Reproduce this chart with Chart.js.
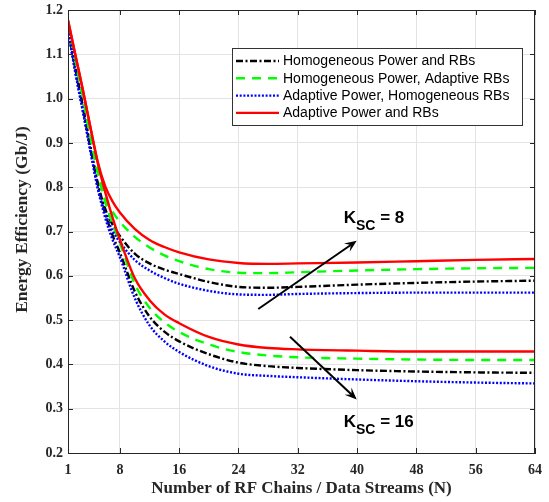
<!DOCTYPE html>
<html lang="en">
<head>
  <meta charset="UTF-8">
  <title>Energy Efficiency vs Number of RF Chains</title>
  <style>
    body { margin: 0; background: #fff; }
    #wrap { width: 549px; height: 502px; position: relative; }
  </style>
</head>
<body>

<div id="wrap"><canvas id="eeChart"></canvas></div>

<script src="https://cdn.jsdelivr.net/npm/chart.js"></script>
<script>
  // x values: number of RF chains / data streams (N)
  const nValues = [1, 2, 3, 4, 5, 6, 7, 8, 10, 12, 14, 16, 20, 24, 28, 32, 40, 48, 56, 64];
  const xTicks = [1, 8, 16, 24, 32, 40, 48, 56, 64];
  const yTicks = [0.2, 0.3, 0.4, 0.5, 0.6, 0.7, 0.8, 0.9, 1.0, 1.1, 1.2];

  const seriesNames = [
    'Homogeneous Power and RBs',
    'Homogeneous Power, Adaptive RBs',
    'Adaptive Power, Homogeneous RBs',
    'Adaptive Power and RBs'
  ];

  // K_SC = 8
  const homoBothK8  = [1.160, 1.068, 0.982, 0.893, 0.810, 0.752, 0.716, 0.690, 0.650, 0.628, 0.614, 0.604, 0.586, 0.575, 0.573, 0.575, 0.580, 0.584, 0.587, 0.589];
  const homoPowK8   = [1.165, 1.082, 1.002, 0.915, 0.835, 0.778, 0.745, 0.722, 0.688, 0.664, 0.646, 0.633, 0.615, 0.607, 0.606, 0.608, 0.612, 0.615, 0.617, 0.618];
  const adaPowK8    = [1.155, 1.058, 0.972, 0.884, 0.800, 0.742, 0.702, 0.676, 0.636, 0.612, 0.595, 0.582, 0.566, 0.558, 0.557, 0.559, 0.561, 0.562, 0.562, 0.562];
  const adaBothK8   = [1.177, 1.098, 1.020, 0.937, 0.858, 0.803, 0.768, 0.743, 0.706, 0.681, 0.665, 0.653, 0.637, 0.629, 0.627, 0.628, 0.630, 0.633, 0.636, 0.638];

  // K_SC = 16
  const homoBothK16 = [1.160, 1.068, 0.982, 0.893, 0.808, 0.742, 0.692, 0.652, 0.565, 0.508, 0.474, 0.452, 0.423, 0.404, 0.396, 0.392, 0.387, 0.384, 0.382, 0.381];
  const homoPowK16  = [1.165, 1.082, 1.002, 0.915, 0.833, 0.768, 0.717, 0.674, 0.582, 0.528, 0.495, 0.473, 0.445, 0.428, 0.420, 0.416, 0.413, 0.411, 0.410, 0.410];
  const adaPowK16   = [1.155, 1.058, 0.972, 0.884, 0.798, 0.732, 0.682, 0.642, 0.550, 0.488, 0.452, 0.428, 0.396, 0.379, 0.374, 0.371, 0.366, 0.362, 0.359, 0.357];
  const adaBothK16  = [1.177, 1.098, 1.020, 0.937, 0.856, 0.790, 0.732, 0.682, 0.595, 0.545, 0.513, 0.493, 0.462, 0.445, 0.437, 0.434, 0.431, 0.429, 0.429, 0.429];

  // line look per scheme (black dash-dot, green dashed, blue dotted, red solid)
  const styles = [
    { color: '#000000', dash: [7, 2.5, 2, 2.5], order: 4 },
    { color: '#00ff00', dash: [9, 7], order: 3 },
    { color: '#0000ff', dash: [2, 1.7], order: 2 },
    { color: '#ff0000', dash: [], order: 1 }
  ];

  const k8 = [homoBothK8, homoPowK8, adaPowK8, adaBothK8];
  const k16 = [homoBothK16, homoPowK16, adaPowK16, adaBothK16];

  function makeSet(label, values, st) {
    return {
      label: label,
      data: nValues.map((n, i) => ({ x: n, y: values[i] })),
      borderColor: st.color,
      borderDash: st.dash,
      borderWidth: 2.4,
      pointRadius: 0,
      fill: false,
      cubicInterpolationMode: 'monotone',
      order: st.order
    };
  }

  const datasets = [];
  seriesNames.forEach((name, i) => {
    datasets.push(makeSet(name + ' (K=8)', k8[i], styles[i]));
    datasets.push(makeSet(name + ' (K=16)', k16[i], styles[i]));
  });

  const axisColor = '#262626';
  const serif = '"Liberation Serif", "Times New Roman", serif';

  // box, inward ticks, y title, legend and the K_SC arrows
  const extrasPlugin = {
    id: 'extras',
    afterDatasetsDraw(chart) {
      const { ctx, chartArea: a, scales: { x, y } } = chart;
      ctx.save();

      ctx.strokeStyle = axisColor;
      ctx.lineWidth = 1;
      ctx.setLineDash([]);
      ctx.strokeRect(a.left + 0.5, a.top + 0.5, a.right - a.left - 1, a.bottom - a.top);

      // inward tick marks on all four sides
      const tl = 5;
      ctx.beginPath();
      xTicks.forEach(v => {
        const px = Math.round(x.getPixelForValue(v)) + 0.5;
        ctx.moveTo(px, a.bottom); ctx.lineTo(px, a.bottom - tl);
        ctx.moveTo(px, a.top); ctx.lineTo(px, a.top + tl);
      });
      yTicks.forEach(v => {
        const py = Math.round(y.getPixelForValue(v)) + 0.5;
        ctx.moveTo(a.left, py); ctx.lineTo(a.left + tl, py);
        ctx.moveTo(a.right, py); ctx.lineTo(a.right - tl, py);
      });
      ctx.stroke();

      // y axis title, sits a little above the middle like the original
      ctx.save();
      ctx.translate(22.5, (a.top + a.bottom) / 2 - 12);
      ctx.rotate(-Math.PI / 2);
      ctx.fillStyle = axisColor;
      ctx.font = 'bold 17.5px ' + serif;
      ctx.textAlign = 'center';
      ctx.textBaseline = 'middle';
      ctx.fillText('Energy Efficiency (Gb/J)', 0, 0);
      ctx.restore();

      // arrows
      function arrow(x0, y0, x1, y1) {
        const p0 = [x.getPixelForValue(x0), y.getPixelForValue(y0)];
        const p1 = [x.getPixelForValue(x1), y.getPixelForValue(y1)];
        const ang = Math.atan2(p1[1] - p0[1], p1[0] - p0[0]);
        const hl = 12, hw = 5;
        ctx.strokeStyle = '#000';
        ctx.fillStyle = '#000';
        ctx.lineWidth = 2;
        ctx.beginPath();
        ctx.moveTo(p0[0], p0[1]);
        ctx.lineTo(p1[0] - Math.cos(ang) * 6, p1[1] - Math.sin(ang) * 6);
        ctx.stroke();
        const bx = p1[0] - Math.cos(ang) * hl, by = p1[1] - Math.sin(ang) * hl;
        const nx = p1[0] - Math.cos(ang) * hl * 0.6, ny = p1[1] - Math.sin(ang) * hl * 0.6;
        ctx.beginPath();
        ctx.moveTo(p1[0], p1[1]);
        ctx.lineTo(bx - Math.sin(ang) * hw, by + Math.cos(ang) * hw);
        ctx.lineTo(nx, ny);
        ctx.lineTo(bx + Math.sin(ang) * hw, by - Math.cos(ang) * hw);
        ctx.closePath();
        ctx.fill();
      }
      arrow(26.67, 0.525, 39.95, 0.679);
      arrow(30.95, 0.4625, 39.95, 0.321);

      function kLabel(xv, yv, val) {
        let px = x.getPixelForValue(xv);
        const py = y.getPixelForValue(yv);
        ctx.fillStyle = '#000';
        ctx.textBaseline = 'alphabetic';
        ctx.textAlign = 'left';
        ctx.font = 'bold 17px "Liberation Sans", Arial, sans-serif';
        ctx.fillText('K', px, py);
        px += ctx.measureText('K').width;
        ctx.font = 'bold 14px "Liberation Sans", Arial, sans-serif';
        ctx.fillText('SC', px, py + 7);
        px += ctx.measureText('SC').width;
        ctx.font = 'bold 17px "Liberation Sans", Arial, sans-serif';
        ctx.fillText(' = ' + val, px, py);
      }
      kLabel(38.2, 0.719, 8);
      kLabel(38.2, 0.259, 16);

      // legend box
      const lw = 290, lh = 77;
      const lx = a.right - 13 - lw, ly = a.top + 38;
      ctx.fillStyle = '#fff';
      ctx.fillRect(lx, ly, lw, lh);
      ctx.strokeStyle = '#333';
      ctx.lineWidth = 1;
      ctx.setLineDash([]);
      ctx.strokeRect(lx + 0.5, ly + 0.5, lw, lh);
      ctx.font = '14px "Liberation Sans", Arial, sans-serif';
      ctx.textBaseline = 'middle';
      seriesNames.forEach((name, i) => {
        const ry = ly + 13 + i * 17.3;
        ctx.strokeStyle = styles[i].color;
        ctx.lineWidth = 2.4;
        ctx.setLineDash(styles[i].dash);
        ctx.beginPath();
        ctx.moveTo(lx + 4, ry);
        ctx.lineTo(lx + 47, ry);
        ctx.stroke();
        ctx.setLineDash([]);
        ctx.fillStyle = '#000';
        ctx.fillText(name, lx + 51, ry + 0.5);
      });

      ctx.restore();
    }
  };

  const ctx = document.getElementById('eeChart').getContext('2d');
  const eeChart = new Chart(ctx, {
    type: 'line',
    data: { datasets: datasets },
    plugins: [extrasPlugin],
    options: {
      responsive: true,
      maintainAspectRatio: false,
      animation: false,
      layout: { padding: { top: 10, right: 14, left: 0, bottom: 0 } },
      plugins: { legend: { display: false }, tooltip: { enabled: false } },
      scales: {
        x: {
          type: 'linear',
          min: 1,
          max: 64,
          afterBuildTicks: axis => { axis.ticks = xTicks.map(v => ({ value: v })); },
          afterFit: s => { s.height = 49; s.paddingLeft = 0; s.paddingRight = 0; },
          grid: { color: '#e3e3e3', drawTicks: false },
          border: { color: axisColor },
          ticks: {
            color: axisColor,
            padding: 9,
            maxRotation: 0,
            font: { family: serif, size: 14, weight: 'bold' }
          },
          title: {
            display: true,
            text: 'Number of RF Chains / Data Streams (N)',
            color: axisColor,
            padding: { bottom: 3 },
            font: { family: serif, size: 17, weight: 'bold' }
          }
        },
        y: {
          min: 0.2,
          max: 1.2,
          afterBuildTicks: axis => { axis.ticks = yTicks.map(v => ({ value: v })); },
          afterFit: s => { s.width = 68; s.paddingTop = 0; s.paddingBottom = 0; },
          grid: { color: '#e3e3e3', drawTicks: false },
          border: { color: axisColor },
          ticks: {
            color: axisColor,
            padding: 5,
            callback: v => Number(v).toFixed(1),
            font: { family: serif, size: 14, weight: 'bold' }
          },
          title: { display: false }
        }
      }
    }
  });
</script>

</body>
</html>
